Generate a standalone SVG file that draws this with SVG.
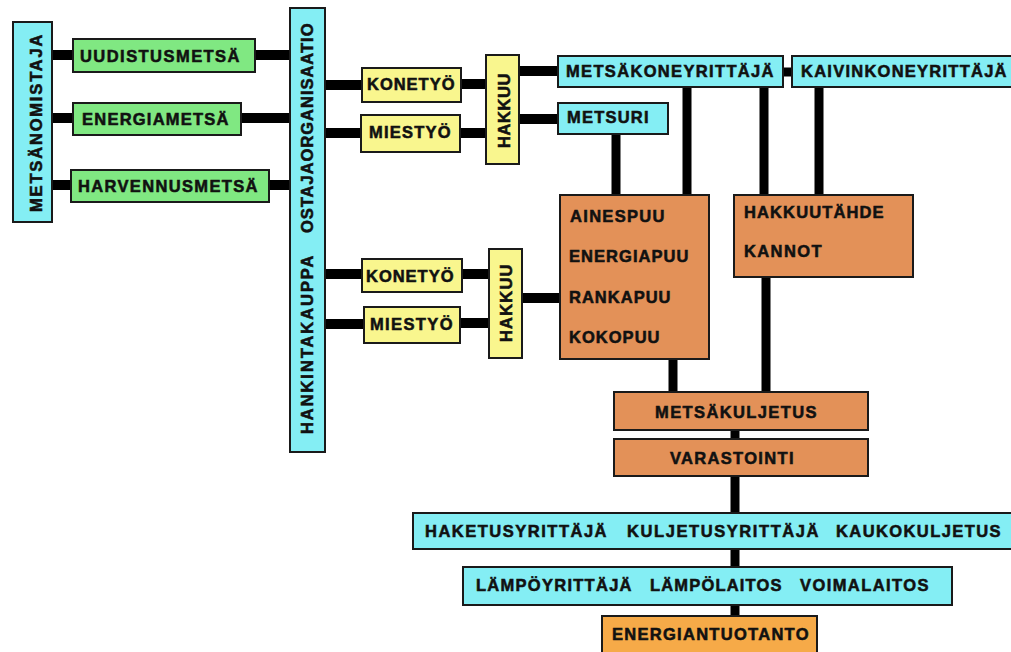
<svg xmlns="http://www.w3.org/2000/svg" width="1011" height="652" viewBox="0 0 1011 652">
<style>
  .box { stroke: #1a1a1a; stroke-width: 2; }
  .cyan { fill: #84EEF4; }
  .green { fill: #80E882; }
  .yellow { fill: #F9F68E; }
  .brown { fill: #E39158; }
  .orange { fill: #F6AA48; }
  .t { font-family: "Liberation Sans", Arial, sans-serif; font-weight: bold; font-size: 16.5px; fill: #111; stroke: #111; stroke-width: 0.55; letter-spacing: 1.5px; }
  .c { stroke: #000; stroke-width: 10; fill: none; }
  .cv { stroke: #000; stroke-width: 9; fill: none; }
</style>
<rect width="1011" height="652" fill="#fff"/>
<g id="connectors">
  <line class="c" x1="52" y1="55" x2="73" y2="55"/>
  <line class="c" x1="255" y1="55" x2="290" y2="55"/>
  <line class="c" x1="52" y1="118" x2="73" y2="118"/>
  <line class="c" x1="241" y1="118" x2="290" y2="118"/>
  <line class="c" x1="52" y1="185" x2="71" y2="185"/>
  <line class="c" x1="269" y1="185" x2="290" y2="185"/>
  <line class="c" x1="325" y1="85" x2="362" y2="85"/>
  <line class="c" x1="325" y1="133" x2="361" y2="133"/>
  <line class="c" x1="461" y1="84" x2="486" y2="84"/>
  <line class="c" x1="460" y1="133" x2="486" y2="133"/>
  <line class="c" x1="519" y1="71" x2="558" y2="71"/>
  <line class="c" x1="519" y1="119" x2="558" y2="119"/>
  <line class="cv" x1="783" y1="72" x2="792" y2="72"/>
  <line class="cv" x1="616" y1="134" x2="616" y2="195"/>
  <line class="cv" x1="687" y1="87" x2="687" y2="195"/>
  <line class="cv" x1="764" y1="87" x2="764" y2="195"/>
  <line class="cv" x1="819" y1="87" x2="819" y2="195"/>
  <line class="c" x1="325" y1="274" x2="362" y2="274"/>
  <line class="c" x1="325" y1="324" x2="364" y2="324"/>
  <line class="c" x1="462" y1="274" x2="489" y2="274"/>
  <line class="c" x1="460" y1="323" x2="489" y2="323"/>
  <line class="c" x1="522" y1="298" x2="560" y2="298"/>
  <line class="cv" x1="673" y1="359" x2="673" y2="392"/>
  <line class="cv" x1="766" y1="277" x2="766" y2="392"/>
  <line class="cv" x1="735" y1="430" x2="735" y2="439"/>
  <line class="cv" x1="735" y1="476" x2="735" y2="513"/>
  <line class="cv" x1="735" y1="549" x2="735" y2="567"/>
  <line class="cv" x1="735" y1="605" x2="735" y2="616"/>
</g>
<g id="metsanomistaja">
  <rect class="box cyan" x="13" y="22" width="39" height="200"/>
  <text class="t" transform="translate(42,212) rotate(-90)" x="0" y="0" textLength="179" lengthAdjust="spacing">METSÄNOMISTAJA</text>
</g>
<g id="uudistusmetsa">
  <rect class="box green" x="73" y="39" width="182" height="33"/>
  <text class="t" x="80" y="62" textLength="161" lengthAdjust="spacing">UUDISTUSMETSÄ</text>
</g>
<g id="energiametsa">
  <rect class="box green" x="73" y="103" width="168" height="32"/>
  <text class="t" x="82" y="125" textLength="148" lengthAdjust="spacing">ENERGIAMETSÄ</text>
</g>
<g id="harvennusmetsa">
  <rect class="box green" x="71" y="170" width="198" height="32"/>
  <text class="t" x="78" y="192" textLength="181" lengthAdjust="spacing">HARVENNUSMETSÄ</text>
</g>
<g id="ostajaorganisaatio">
  <rect class="box cyan" x="290" y="8" width="35" height="444"/>
  <text class="t" transform="translate(313,452) rotate(-90)" y="0"><tspan x="18" textLength="180" lengthAdjust="spacing">HANKINTAKAUPPA</tspan><tspan x="219" textLength="211" lengthAdjust="spacing">OSTAJAORGANISAATIO</tspan></text>
</g>
<g id="konetyo1">
  <rect class="box yellow" x="362" y="68" width="99" height="34"/>
  <text class="t" x="367" y="90" textLength="89" lengthAdjust="spacing">KONETYÖ</text>
</g>
<g id="miestyo1">
  <rect class="box yellow" x="361" y="115" width="99" height="37"/>
  <text class="t" x="369" y="138" textLength="83" lengthAdjust="spacing">MIESTYÖ</text>
</g>
<g id="hakkuu1">
  <rect class="box yellow" x="486" y="55" width="33" height="109"/>
  <text class="t" transform="translate(510,148) rotate(-90)" x="0" y="0" textLength="76" lengthAdjust="spacing">HAKKUU</text>
</g>
<g id="metsakoneyrittaja">
  <rect class="box cyan" x="558" y="56" width="225" height="31"/>
  <text class="t" x="566" y="77" textLength="209" lengthAdjust="spacing">METSÄKONEYRITTÄJÄ</text>
</g>
<g id="kaivinkoneyrittaja">
  <rect class="box cyan" x="792" y="56" width="225" height="31"/>
  <text class="t" x="801" y="77" textLength="207" lengthAdjust="spacing">KAIVINKONEYRITTÄJÄ</text>
</g>
<g id="metsuri">
  <rect class="box cyan" x="558" y="103" width="110" height="31"/>
  <text class="t" x="567" y="123" textLength="83" lengthAdjust="spacing">METSURI</text>
</g>
<g id="puutavara">
  <rect class="box brown" x="560" y="195" width="149" height="164"/>
  <text class="t" x="570" y="222" textLength="96" lengthAdjust="spacing">AINESPUU</text>
  <text class="t" x="569" y="262" textLength="121" lengthAdjust="spacing">ENERGIAPUU</text>
  <text class="t" x="569" y="303" textLength="103" lengthAdjust="spacing">RANKAPUU</text>
  <text class="t" x="569" y="343" textLength="92" lengthAdjust="spacing">KOKOPUU</text>
</g>
<g id="hakkuutahde">
  <rect class="box brown" x="734" y="195" width="179" height="82"/>
  <text class="t" x="744" y="218" textLength="141" lengthAdjust="spacing">HAKKUUTÄHDE</text>
  <text class="t" x="744" y="257" textLength="79" lengthAdjust="spacing">KANNOT</text>
</g>
<g id="konetyo2">
  <rect class="box yellow" x="362" y="259" width="100" height="33"/>
  <text class="t" x="366" y="282" textLength="89" lengthAdjust="spacing">KONETYÖ</text>
</g>
<g id="miestyo2">
  <rect class="box yellow" x="364" y="307" width="96" height="36"/>
  <text class="t" x="370" y="330" textLength="84" lengthAdjust="spacing">MIESTYÖ</text>
</g>
<g id="hakkuu2">
  <rect class="box yellow" x="489" y="249" width="33" height="109"/>
  <text class="t" transform="translate(512,342) rotate(-90)" x="0" y="0" textLength="79" lengthAdjust="spacing">HAKKUU</text>
</g>
<g id="metsakuljetus">
  <rect class="box brown" x="614" y="392" width="254" height="38"/>
  <text class="t" x="655" y="418" textLength="163" lengthAdjust="spacing">METSÄKULJETUS</text>
</g>
<g id="varastointi">
  <rect class="box brown" x="614" y="439" width="254" height="37"/>
  <text class="t" x="670" y="464" textLength="125" lengthAdjust="spacing">VARASTOINTI</text>
</g>
<g id="haketus">
  <rect class="box cyan" x="413" y="513" width="605" height="36"/>
  <text class="t" y="537"><tspan x="425" textLength="183" lengthAdjust="spacing">HAKETUSYRITTÄJÄ</tspan><tspan x="627" textLength="193" lengthAdjust="spacing">KULJETUSYRITTÄJÄ</tspan><tspan x="836" textLength="166" lengthAdjust="spacing">KAUKOKULJETUS</tspan></text>
</g>
<g id="lampo">
  <rect class="box cyan" x="463" y="567" width="489" height="38"/>
  <text class="t" y="591"><tspan x="476" textLength="157" lengthAdjust="spacing">LÄMPÖYRITTÄJÄ</tspan><tspan x="650" textLength="133" lengthAdjust="spacing">LÄMPÖLAITOS</tspan><tspan x="800" textLength="130" lengthAdjust="spacing">VOIMALAITOS</tspan></text>
</g>
<g id="energiantuotanto">
  <rect class="box orange" x="602" y="616" width="215" height="45"/>
  <text class="t" x="612" y="640" textLength="198" lengthAdjust="spacing">ENERGIANTUOTANTO</text>
</g>
</svg>
